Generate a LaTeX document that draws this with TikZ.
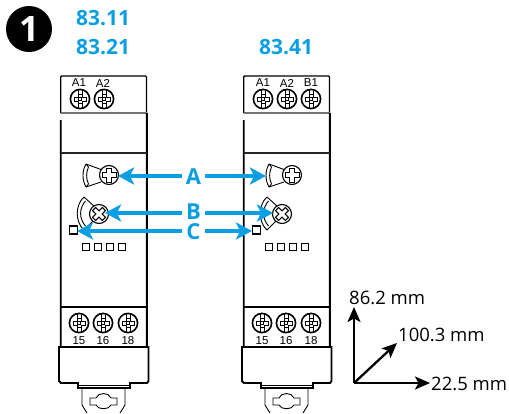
\documentclass[tikz,border=0pt]{standalone}
\usepackage{fontspec}
\setmainfont{Open Sans}
\newfontfamily\termfont{Liberation Sans}
\usetikzlibrary{arrows.meta}
\definecolor{cy}{HTML}{0A9FE3}
\newcommand{\fs}[1]{\fontsize{#1}{#1}\selectfont}
\newcommand{\termscrew}[2]{%
  \begin{scope}[shift={(#1,#2)}]
    \draw[line width=1.6pt] (0,0) circle (9.6);
    \draw[line width=.8pt] (-1.9,-9)--(-1.9,9) (1.9,-9)--(1.9,9);
    \draw[line width=.8pt,fill=white] (-1.9,-4.5)--(1.9,-4.5)--(1.9,-2)--(6,-2)--(6,2)--(1.9,2)--(1.9,4.5)--(-1.9,4.5)--(-1.9,2)--(-6,2)--(-6,-2)--(-1.9,-2)--cycle;
    \draw[line width=1pt] (-1.3,-1.3) rectangle (1.3,1.3);
  \end{scope}}
\newcommand{\potcross}[1]{%
  \draw[line width=1.1pt,fill=white] (0,0) circle (9.5);
  \draw[line width=1pt,rotate=#1] (-2.2,-7)--(2.2,-7)--(2.2,-2.2)--(7,-2.2)--(7,2.2)--(2.2,2.2)--(2.2,7)--(-2.2,7)--(-2.2,2.2)--(-7,2.2)--(-7,-2.2)--(-2.2,-2.2)--cycle;}
\newcommand{\devicebody}{%
  \draw[line width=1.4pt] (.7,37) -- (.7,1) -- (1.5,0) -- (85.5,0) -- (86.5,1) -- (86.5,37);
  \draw[line width=2.2pt,black!55] (.7,37) -- (86.5,37);
  \draw[line width=1.9pt] (.7,44) -- (.7,271) -- (-1,271) -- (-1,305) -- (1,307) -- (18,307) -- (18,312) -- (70,312) -- (70,307) -- (87,307) -- (88.5,305) -- (88.5,271) -- (86.8,271) -- (86.8,37);
  \draw[line width=1.8pt,black!85] (.7,77) -- (86.8,77);
  \draw[line width=1.3pt] (.7,231) -- (86.8,231);
  \draw[line width=1.5pt] (-1,271) -- (88.5,271);
  \draw[line width=.7pt] (18,309.5) -- (70,309.5);
  \draw[line width=.9pt] (22,312) -- (22,329) -- (27,337) (65,312) -- (65,329) -- (60,337);
  \draw[line width=.9pt] (30,322) -- (30,329) -- (36,329) .. controls (38,334) and (49,334) .. (51,329) -- (57,329) -- (57,322) -- (51,322) .. controls (49,316) and (38,316) .. (36,322) -- cycle;
  \foreach \sx in {26,38,50,62}{\draw[line width=.9pt] (\sx-3.3,167.7) rectangle (\sx+3.3,174.3);}
  \draw[line width=1.2pt] (13.5-4,150) rectangle (13.5+4,158);
  % pot A fan
  \draw[line width=.9pt] (26,88) .. controls (22,95) and (22,104) .. (26,111);
  \draw[line width=.9pt] (26,88) -- (41,93.5) (26,111) -- (41,106);
  \draw[line width=.9pt] (28.5,91) .. controls (26,96) and (26,103) .. (28.5,108) (28.5,91) -- (26,88) (28.5,108) -- (26,111);
  % pot B fan
  \draw[line width=.9pt] (24,121) .. controls (15,129) and (15,146) .. (24,154);
  \draw[line width=.9pt] (24,121) -- (35,131) (24,154) -- (33,145);
  \draw[line width=.9pt] (25.5,125) .. controls (19,132) and (19,143) .. (25.5,150);
}
\begin{document}
\begin{tikzpicture}[x=1pt,y=-1pt,
  title/.style={text=cy,font=\bfseries\fs{21}},
  letter/.style={text=cy,font=\bfseries\fs{22},minimum width=23pt,inner sep=0pt,anchor=center,text height=13pt,text depth=0pt},
  arr/.style={draw=cy,line width=3.2pt,-{Stealth[length=16pt,width=17pt,inset=4pt]}},
  dim/.style={line width=2.3pt,-{Stealth[length=15pt,width=13pt,inset=3.5pt]}},
  dimtxt/.style={font=\fs{18.5},inner sep=0pt,anchor=west},
  term/.style={font=\termfont\fs{11.5},inner sep=0pt}]
\useasboundingbox (0,0) rectangle (509,413);
\clip (0,0) rectangle (509,413);
\fill[white] (0,0) rectangle (509,413);

\node[circle,fill=black,minimum size=46pt,inner sep=0pt,text=white,font=\bfseries\fs{35}] (badge) at (29,29) {1};
\node[title,anchor=west,inner sep=0pt] (t1) at (76,18) {83.11};
\node[title,anchor=west,inner sep=0pt] (t2) at (76,47) {83.21};
\node[title,anchor=west,inner sep=0pt] (t3) at (259,47) {83.41};

\begin{scope}[shift={(60,76)}]\devicebody\end{scope}
\begin{scope}[shift={(243,76)}]\devicebody\end{scope}

\foreach \tx in {80,104,263,287,311}{\termscrew{\tx}{99}}
\foreach \tx in {79,103,128,262,286,311}{\termscrew{\tx}{323}}

\node[term] (la1) at (79,83) {A1};
\node[term] (la2) at (103,83) {A2};
\node[term] (ra1) at (263,83) {A1};
\node[term] (ra2) at (287,83) {A2};
\node[term] (rb1) at (311,83) {B1};
\foreach \tx/\tt/\nm in {79/15/a,103/16/b,128/18/c,262/15/d,286/16/e,311/18/f}{\node[term] (b\nm) at (\tx,341) {\tt};}

\begin{scope}[shift={(109,175)}]\potcross{0}\end{scope}
\begin{scope}[shift={(292,175)}]\potcross{0}\end{scope}
\begin{scope}[shift={(99,214)}]\potcross{45}\end{scope}
\begin{scope}[shift={(282,214)}]\potcross{45}\end{scope}

\coordinate (lA) at (118,176);
\coordinate (rA) at (266,176);
\coordinate (lB) at (105,213);
\coordinate (rB) at (273,213);
\coordinate (lC) at (77,231);
\coordinate (rC) at (252,231);
\node[letter] (A) at (193.5,178) {A};
\node[letter] (B) at (193.5,213) {B};
\node[letter] (C) at (193.5,232.5) {C};
\draw[arr] (A.west |- lA) -- (lA);
\draw[arr] (A.east |- rA) -- (rA);
\draw[arr] (B.west |- lB) -- (lB);
\draw[arr] (B.east |- rB) -- (rB);
\draw[arr] (C.west |- lC) -- (lC);
\draw[arr] (C.east |- rC) -- (rC);

\coordinate (o) at (354,383);
\node[dimtxt] (d1) at (349,298) {86.2 mm};
\node[dimtxt] (d2) at (398,335) {100.3 mm};
\node[dimtxt] (d3) at (431,384) {22.5 mm};
\coordinate (tipU) at (354,307);
\coordinate (tipD) at (397,343);
\coordinate (tipR) at (430,383);
\draw[dim] (o) -- (tipU);
\draw[dim] (o) -- (tipD);
\draw[dim] (o) -- (tipR);
\end{tikzpicture}
\end{document}
